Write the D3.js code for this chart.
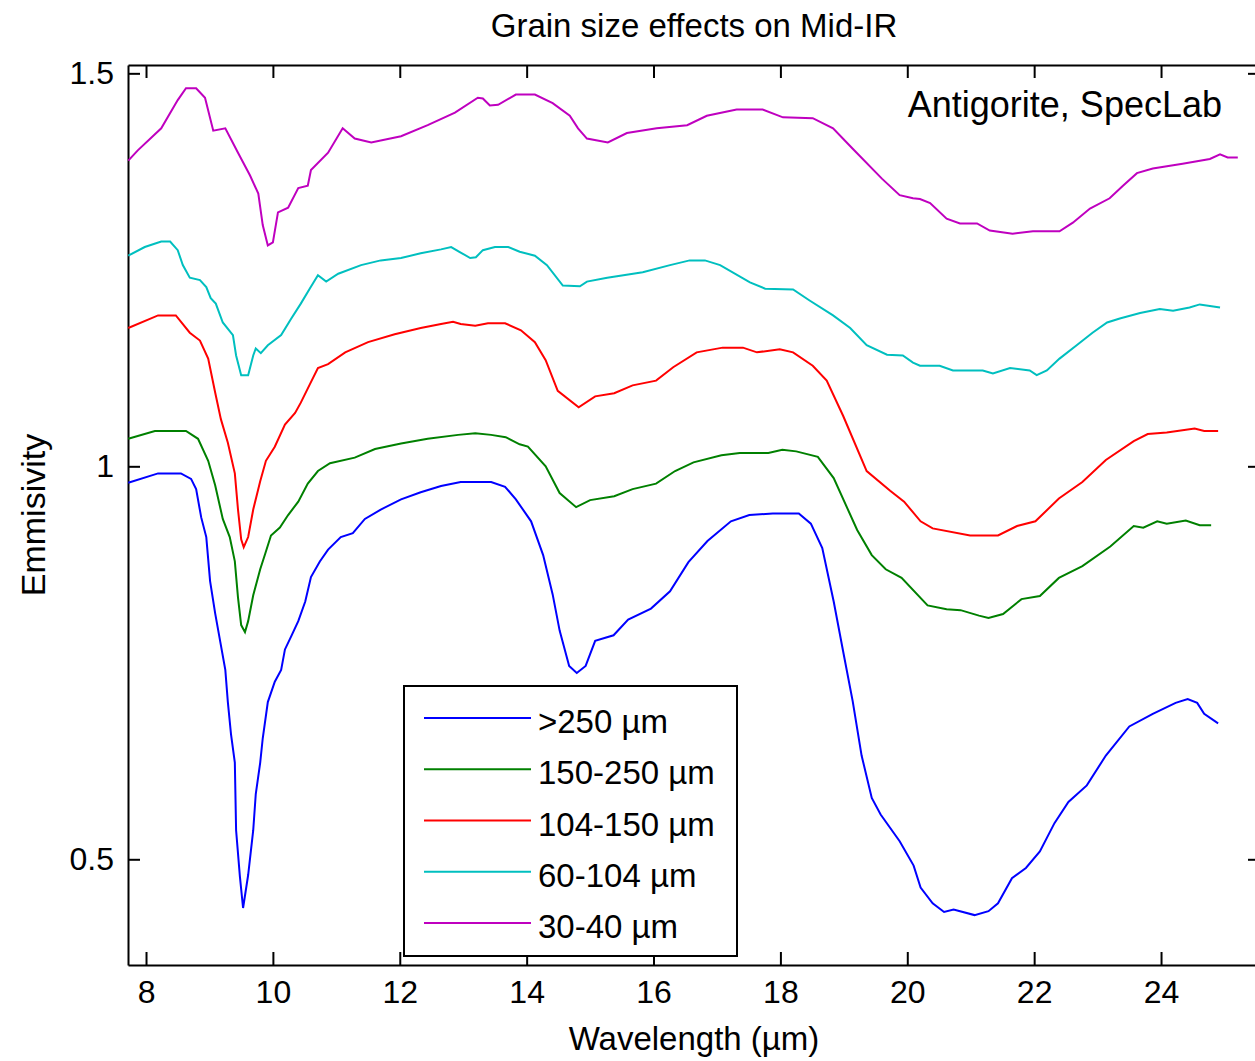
<!DOCTYPE html>
<html>
<head>
<meta charset="utf-8">
<script src="https://cdn.jsdelivr.net/npm/d3@7"></script>
<style>
  body { margin: 0; background: #fff; overflow: hidden; }
  text { font-family: "Liberation Sans", Arial, sans-serif; fill: #000; }
</style>
</head>
<body>
<svg id="chart"></svg>
<script>
// Grain size effects on Mid-IR - antigorite emissivity spectra

// data (wavelength in um, emissivity)
const wl250 = [7.72, 8.19, 8.55, 8.71, 8.79, 8.87, 8.95, 9.01, 9.09, 9.17, 9.25, 9.29, 9.34, 9.40, 9.42, 9.48, 9.53, 9.61, 9.69, 9.73, 9.80, 9.84, 9.92, 10.03, 10.13, 10.19, 10.29, 10.40, 10.51, 10.60, 10.74, 10.87, 11.07, 11.26, 11.45, 11.70, 12.02, 12.33, 12.65, 12.96, 13.19, 13.44, 13.66, 13.83, 14.07, 14.26, 14.41, 14.52, 14.67, 14.79, 14.93, 15.08, 15.37, 15.60, 15.96, 16.26, 16.55, 16.85, 17.22, 17.51, 17.88, 18.29, 18.48, 18.66, 18.84, 18.99, 19.14, 19.28, 19.44, 19.58, 19.88, 20.10, 20.21, 20.40, 20.58, 20.73, 21.06, 21.28, 21.43, 21.65, 21.87, 22.09, 22.32, 22.54, 22.83, 23.13, 23.50, 23.87, 24.23, 24.42, 24.57, 24.68, 24.90];
const em250 = [0.979, 0.991, 0.991, 0.984, 0.971, 0.935, 0.910, 0.854, 0.813, 0.777, 0.741, 0.700, 0.659, 0.623, 0.537, 0.478, 0.438, 0.480, 0.537, 0.583, 0.623, 0.654, 0.700, 0.726, 0.741, 0.767, 0.784, 0.803, 0.828, 0.859, 0.879, 0.894, 0.910, 0.915, 0.933, 0.945, 0.958, 0.967, 0.975, 0.980, 0.980, 0.980, 0.974, 0.958, 0.930, 0.887, 0.837, 0.791, 0.746, 0.737, 0.746, 0.778, 0.785, 0.805, 0.819, 0.841, 0.878, 0.905, 0.930, 0.938, 0.940, 0.940, 0.927, 0.896, 0.828, 0.764, 0.701, 0.632, 0.578, 0.557, 0.523, 0.492, 0.464, 0.444, 0.433, 0.436, 0.429, 0.434, 0.444, 0.476, 0.489, 0.510, 0.546, 0.573, 0.594, 0.632, 0.669, 0.685, 0.699, 0.704, 0.699, 0.685, 0.673];

const wl150 = [7.72, 8.14, 8.63, 8.82, 8.98, 9.09, 9.21, 9.32, 9.40, 9.45, 9.50, 9.56, 9.61, 9.69, 9.80, 9.88, 9.97, 10.11, 10.24, 10.40, 10.55, 10.71, 10.90, 11.29, 11.61, 12.02, 12.44, 12.92, 13.19, 13.44, 13.67, 13.89, 14.02, 14.30, 14.52, 14.78, 15.00, 15.38, 15.67, 16.04, 16.34, 16.63, 17.07, 17.36, 17.81, 18.03, 18.25, 18.59, 18.84, 19.21, 19.44, 19.66, 19.91, 20.32, 20.62, 20.84, 21.13, 21.28, 21.51, 21.80, 22.09, 22.39, 22.76, 23.20, 23.57, 23.72, 23.94, 24.09, 24.39, 24.61, 24.79];
const em150 = [1.035, 1.045, 1.045, 1.035, 1.007, 0.976, 0.933, 0.910, 0.879, 0.833, 0.798, 0.789, 0.803, 0.836, 0.869, 0.889, 0.912, 0.922, 0.938, 0.955, 0.978, 0.994, 1.004, 1.011, 1.022, 1.029, 1.035, 1.040, 1.042, 1.040, 1.037, 1.028, 1.025, 1.000, 0.966, 0.948, 0.957, 0.962, 0.971, 0.978, 0.994, 1.005, 1.014, 1.017, 1.017, 1.021, 1.019, 1.012, 0.985, 0.919, 0.887, 0.869, 0.858, 0.823, 0.818, 0.817, 0.810, 0.807, 0.812, 0.831, 0.835, 0.858, 0.873, 0.898, 0.924, 0.922, 0.930, 0.927, 0.931, 0.925, 0.925];

const wl104 = [7.72, 8.19, 8.47, 8.69, 8.85, 8.98, 9.09, 9.18, 9.29, 9.40, 9.45, 9.50, 9.54, 9.61, 9.69, 9.80, 9.89, 10.03, 10.19, 10.35, 10.44, 10.58, 10.71, 10.87, 11.14, 11.50, 11.92, 12.33, 12.65, 12.84, 12.96, 13.19, 13.39, 13.66, 13.91, 14.13, 14.30, 14.49, 14.82, 15.08, 15.38, 15.67, 16.04, 16.31, 16.68, 17.09, 17.41, 17.63, 17.99, 18.20, 18.51, 18.73, 18.99, 19.36, 19.73, 19.95, 20.21, 20.40, 20.99, 21.43, 21.73, 22.02, 22.39, 22.76, 23.13, 23.57, 23.79, 24.09, 24.53, 24.68, 24.90];
const em104 = [1.176, 1.192, 1.192, 1.170, 1.160, 1.137, 1.094, 1.060, 1.030, 0.991, 0.945, 0.907, 0.897, 0.910, 0.945, 0.981, 1.007, 1.025, 1.053, 1.068, 1.081, 1.104, 1.125, 1.130, 1.145, 1.158, 1.168, 1.176, 1.181, 1.184, 1.181, 1.179, 1.182, 1.182, 1.173, 1.158, 1.135, 1.096, 1.075, 1.089, 1.093, 1.103, 1.109, 1.126, 1.145, 1.151, 1.151, 1.145, 1.149, 1.145, 1.128, 1.109, 1.064, 0.994, 0.969, 0.955, 0.930, 0.921, 0.912, 0.912, 0.924, 0.930, 0.959, 0.980, 1.008, 1.032, 1.041, 1.043, 1.048, 1.045, 1.045];

const wl60 = [7.72, 7.98, 8.24, 8.38, 8.50, 8.58, 8.69, 8.85, 8.95, 9.02, 9.10, 9.21, 9.37, 9.42, 9.50, 9.61, 9.69, 9.73, 9.81, 9.92, 10.13, 10.29, 10.44, 10.58, 10.71, 10.84, 11.03, 11.39, 11.70, 12.02, 12.33, 12.65, 12.81, 12.96, 13.11, 13.20, 13.31, 13.50, 13.71, 13.89, 14.13, 14.32, 14.57, 14.84, 14.95, 15.27, 15.83, 16.26, 16.57, 16.81, 17.05, 17.52, 17.76, 18.20, 18.46, 18.83, 19.10, 19.36, 19.68, 19.93, 20.09, 20.20, 20.51, 20.72, 21.19, 21.35, 21.62, 21.93, 22.04, 22.20, 22.40, 22.67, 22.92, 23.15, 23.35, 23.67, 23.98, 24.19, 24.45, 24.61, 24.77, 24.93];
const em60 = [1.268, 1.279, 1.286, 1.286, 1.275, 1.256, 1.240, 1.237, 1.228, 1.214, 1.207, 1.183, 1.167, 1.141, 1.116, 1.116, 1.141, 1.150, 1.144, 1.154, 1.167, 1.188, 1.207, 1.226, 1.243, 1.235, 1.245, 1.256, 1.262, 1.265, 1.271, 1.276, 1.279, 1.272, 1.265, 1.266, 1.275, 1.279, 1.279, 1.273, 1.268, 1.256, 1.230, 1.229, 1.235, 1.240, 1.247, 1.256, 1.262, 1.262, 1.256, 1.234, 1.226, 1.225, 1.211, 1.192, 1.176, 1.154, 1.142, 1.141, 1.132, 1.128, 1.128, 1.122, 1.122, 1.118, 1.125, 1.122, 1.116, 1.122, 1.137, 1.154, 1.170, 1.183, 1.188, 1.195, 1.200, 1.198, 1.202, 1.206, 1.204, 1.202];

const wl30 = [7.72, 7.87, 8.24, 8.50, 8.63, 8.79, 8.93, 9.06, 9.25, 9.45, 9.64, 9.77, 9.84, 9.92, 10.00, 10.08, 10.24, 10.40, 10.55, 10.60, 10.87, 11.10, 11.29, 11.55, 12.02, 12.44, 12.87, 13.23, 13.31, 13.42, 13.55, 13.83, 14.13, 14.41, 14.68, 14.81, 14.95, 15.28, 15.58, 16.05, 16.53, 16.84, 17.31, 17.72, 18.04, 18.51, 18.83, 19.14, 19.60, 19.88, 20.09, 20.20, 20.36, 20.62, 20.83, 21.10, 21.30, 21.66, 21.98, 22.40, 22.61, 22.88, 23.19, 23.40, 23.62, 23.87, 24.34, 24.77, 24.93, 25.05, 25.21];
const em30 = [1.389, 1.402, 1.430, 1.466, 1.481, 1.481, 1.469, 1.427, 1.430, 1.399, 1.370, 1.347, 1.307, 1.281, 1.285, 1.323, 1.329, 1.354, 1.357, 1.377, 1.399, 1.430, 1.417, 1.412, 1.420, 1.434, 1.450, 1.469, 1.468, 1.459, 1.460, 1.473, 1.473, 1.462, 1.446, 1.430, 1.417, 1.412, 1.424, 1.430, 1.434, 1.446, 1.454, 1.454, 1.444, 1.443, 1.430, 1.404, 1.366, 1.345, 1.341, 1.340, 1.335, 1.315, 1.309, 1.309, 1.300, 1.296, 1.299, 1.299, 1.310, 1.328, 1.341, 1.357, 1.373, 1.379, 1.385, 1.391, 1.397, 1.393, 1.393];

const labels = [">250 \u00b5m", "150-250 \u00b5m", "104-150 \u00b5m", "60-104 \u00b5m", "30-40 \u00b5m"];
const colors = ["#0000ff", "#008000", "#ff0000", "#00bfbf", "#bf00bf"];
const xTicks = [8, 10, 12, 14, 16, 18, 20, 22, 24];
const yTicks = [0.5, 1, 1.5];

const series = [
  { wl: wl250, em: em250 },
  { wl: wl150, em: em150 },
  { wl: wl104, em: em104 },
  { wl: wl60, em: em60 },
  { wl: wl30, em: em30 }
].map((s, i) => ({
  label: labels[i],
  color: colors[i],
  points: s.wl.map((w, j) => [w, s.em[j]])
}));

// Config
const width = 1255;
const height = 1061;
const plot = { left: 128, top: 65, right: 1260, bottom: 965 };

const svg = d3.select("#chart")
  .attr("width", width)
  .attr("height", height);

const x = d3.scaleLinear()
  .domain([7.716, 25.56])
  .range([plot.left, plot.right]);

const y = d3.scaleLinear()
  .domain([0.3655, 1.5106])
  .range([plot.bottom, plot.top]);

// axes (MATLAB style box, ticks inward)
const axisStyle = g => {
  g.selectAll("path.domain").attr("stroke", "#000").attr("stroke-width", 2);
  g.selectAll(".tick line").attr("stroke", "#000").attr("stroke-width", 2);
};

svg.append("g")
  .attr("transform", `translate(0,${plot.bottom})`)
  .call(d3.axisBottom(x).tickValues(xTicks).tickSizeInner(-13).tickSizeOuter(0).tickPadding(15))
  .call(axisStyle)
  .call(g => g.selectAll("text").attr("font-size", 32).attr("font-family", "Liberation Sans, Arial, sans-serif").attr("fill", "#000"));

svg.append("g")
  .attr("transform", `translate(0,${plot.top})`)
  .call(d3.axisTop(x).tickValues(xTicks).tickSizeInner(-13).tickSizeOuter(0).tickFormat(""))
  .call(axisStyle);

svg.append("g")
  .attr("transform", `translate(${plot.left},0)`)
  .call(d3.axisLeft(y).tickValues(yTicks).tickSizeInner(-12).tickSizeOuter(0).tickPadding(14).tickFormat(d3.format("")))
  .call(axisStyle)
  .call(g => g.selectAll("text").attr("font-size", 32).attr("font-family", "Liberation Sans, Arial, sans-serif").attr("fill", "#000"));

svg.append("g")
  .attr("transform", `translate(${plot.right},0)`)
  .call(d3.axisRight(y).tickValues(yTicks).tickSizeInner(-12).tickSizeOuter(0).tickFormat(""))
  .call(axisStyle);

// curves
const line = d3.line()
  .x(d => x(d[0]))
  .y(d => y(d[1]));

svg.append("g")
  .selectAll("path")
  .data(series)
  .join("path")
  .attr("d", d => line(d.points))
  .attr("fill", "none")
  .attr("stroke", d => d.color)
  .attr("stroke-width", 2);

// titles
svg.append("text")
  .attr("x", (plot.left + plot.right) / 2)
  .attr("y", 37)
  .attr("text-anchor", "middle")
  .attr("font-size", 33)
  .text("Grain size effects on Mid-IR");

svg.append("text")
  .attr("x", (plot.left + plot.right) / 2)
  .attr("y", 1050)
  .attr("text-anchor", "middle")
  .attr("font-size", 33)
  .text("Wavelength (\u00b5m)");

svg.append("text")
  .attr("transform", `translate(45,${(plot.top + plot.bottom) / 2}) rotate(-90)`)
  .attr("text-anchor", "middle")
  .attr("font-size", 34)
  .text("Emmisivity");

svg.append("text")
  .attr("x", 1222)
  .attr("y", 117)
  .attr("text-anchor", "end")
  .attr("font-size", 36)
  .text("Antigorite, SpecLab");

// legend
const legend = svg.append("g");
legend.append("rect")
  .attr("x", 404)
  .attr("y", 686)
  .attr("width", 333)
  .attr("height", 270)
  .attr("fill", "#fff")
  .attr("stroke", "#000")
  .attr("stroke-width", 2);

const rowY = d3.scalePoint()
  .domain(labels)
  .range([718, 923]);

const rows = legend.selectAll("g.row")
  .data(series)
  .join("g")
  .attr("class", "row")
  .attr("transform", d => `translate(0,${rowY(d.label)})`);

rows.append("line")
  .attr("x1", 424)
  .attr("x2", 531)
  .attr("stroke", d => d.color)
  .attr("stroke-width", 2);

rows.append("text")
  .attr("x", 538)
  .attr("y", 15)
  .attr("font-size", 33)
  .text(d => d.label);
</script>
</body>
</html>
